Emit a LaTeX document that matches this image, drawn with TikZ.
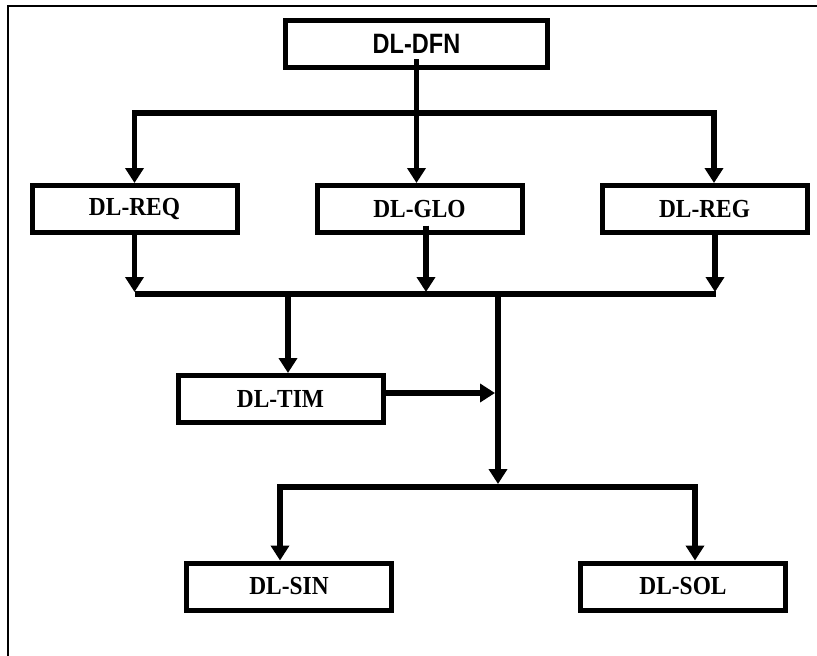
\documentclass[tikz,border=0pt]{standalone}
\usepackage{fontspec}
\usepackage{graphicx}
\setmainfont{Liberation Serif}
\newfontfamily\dfnfont{Liberation Sans}
\newcommand\sqz[2]{\scalebox{#1}[1]{#2}}
\usetikzlibrary{arrows.meta}
\begin{document}
\begin{tikzpicture}[x=1pt,y=-1pt,
  box/.style={draw,line width=5pt,minimum width=205pt,minimum height=47pt,inner sep=0pt,
    font=\fontsize{26}{30}\selectfont\bfseries},
  conn/.style={line width=5.5pt,line join=miter},
  arr/.style={conn,-{Triangle[width=18pt,length=15pt]}},
  frame/.style={line width=2pt}]
\useasboundingbox (0,0) rectangle (817,656);
% frame (left and top edges)
\coordinate (fbl) at (8,656);
\coordinate (ftl) at (8,6);
\coordinate (ftr) at (817,6);
\draw[frame] (fbl) -- (ftl) -- (ftr);
% nodes
\node[box,minimum width=262pt,font=\dfnfont\fontsize{28}{30}\selectfont\bfseries] (dfn) at (416.5,44) {\sqz{0.84}{DL-DFN}};
\node[box] (req) at (134.5,209) {\sqz{0.9}{DL-REQ}};
\node[box] (glo) at (419.5,209) {\sqz{0.9}{DL-GLO}};
\node[box] (reg) at (704.5,209) {\sqz{0.9}{DL-REG}};
\node[box] (tim) at (280.5,399) {\sqz{0.9}{DL-TIM}};
\node[box] (sin) at (289,586.5) {\sqz{0.9}{DL-SIN}};
\node[box] (sol) at (683,586.5) {\sqz{0.9}{DL-SOL}};
% junction coordinates
\coordinate (b1) at (416,113);
\coordinate (t2) at (0,292);
\coordinate (b2) at (0,294);
\coordinate (j) at (498,294);
\coordinate (tj) at (288,294);
\coordinate (b3) at (498,487);
\coordinate (tt) at (495,393);
% level 1
\draw[arr] ([yshift=11pt]dfn.south) -- (dfn.south |- glo.north);
\draw[arr] (b1) -| (req.north);
\draw[arr] (b1) -| ([xshift=9.5pt]reg.north);
% level 2
\draw[arr] (req.south) -- (req.south |- t2);
\draw[arr] ([xshift=6.5pt,yshift=9.5pt]glo.south) -- ([xshift=6.5pt]glo.south |- t2);
\draw[arr] ([xshift=10.5pt]reg.south) -- ([xshift=10.5pt]reg.south |- t2);
\draw[conn] (req.south |- b2) -- ([xshift=11.5pt]reg.south |- b2);
% middle
\draw[arr] (tj) -- (tj |- tim.north);
\draw[arr] (tim.east |- tt) -- (tt);
\draw[arr] (j) -- ([yshift=3pt]b3);
% level 3
\draw[arr] (b3) -| ([xshift=-9pt]sin.north);
\draw[arr] (b3) -| ([xshift=12pt]sol.north);
\end{tikzpicture}
\end{document}
